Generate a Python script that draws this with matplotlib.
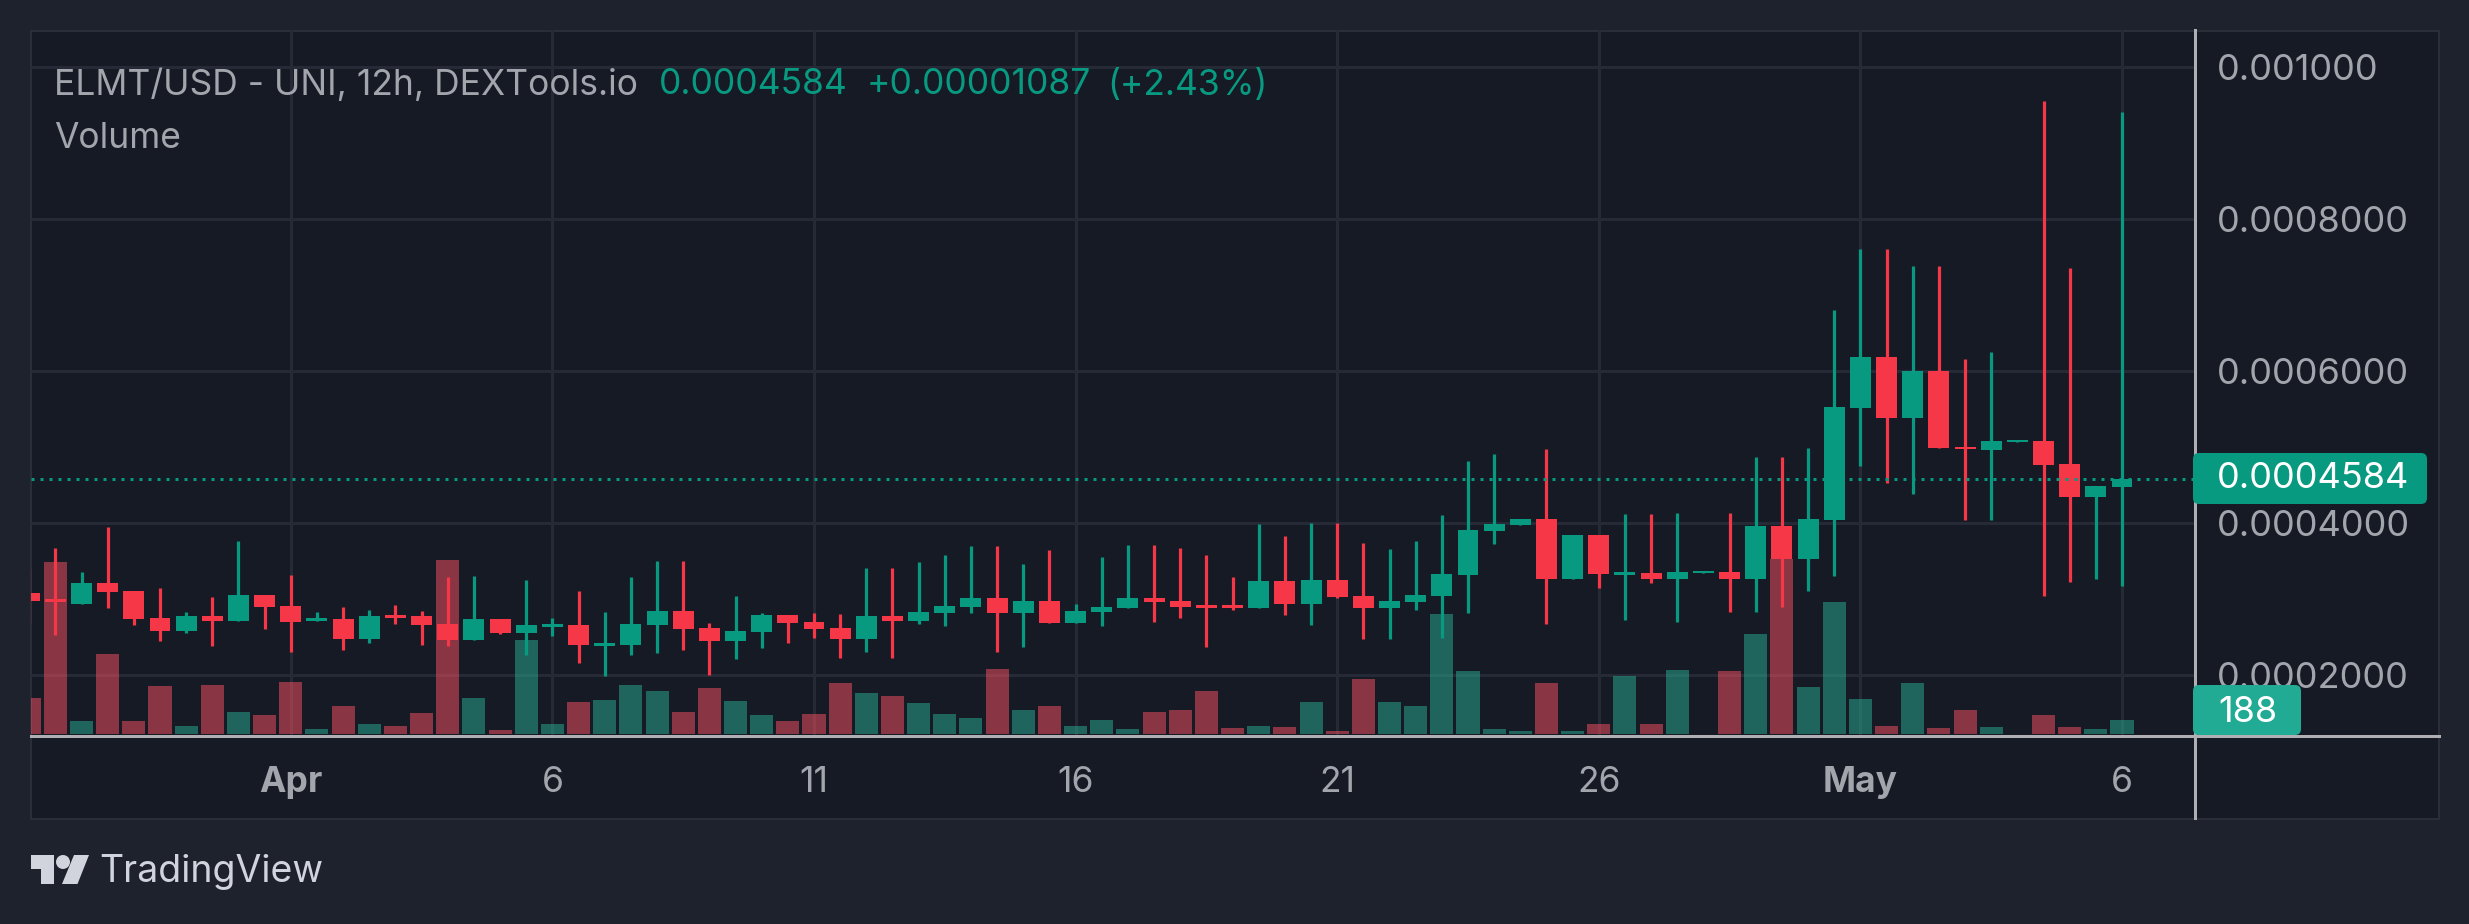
import matplotlib
matplotlib.use("Agg")
import matplotlib.pyplot as plt
import numpy as np
from matplotlib.patches import Rectangle, FancyBboxPatch, Polygon, Circle
from matplotlib.transforms import IdentityTransform

plt.rcParams['font.family'] = ['Inter', 'DejaVu Sans']

# 12h bars, index 0 = 1 April; prices in units of 0.0001
bar_index = list(range(-10, 71))
opens = [3.083,3.004,2.939,3.215,3.110,2.754,2.583,2.781,2.715,3.057,
         2.912,2.715,2.741,2.478,2.794,2.781,2.675,2.465,2.741,2.557,
         2.636,2.662,2.386,2.399,2.662,2.846,2.623,2.452,2.570,2.794,
         2.702,2.623,2.478,2.781,2.715,2.820,2.899,3.018,2.820,2.978,
         2.689,2.833,2.886,3.018,2.978,2.925,2.925,2.886,3.241,2.939,
         3.254,3.044,2.886,2.965,3.044,3.320,3.899,3.978,4.057,3.268,
         3.846,3.319,3.349,3.271,3.349,3.361,3.259,3.964,3.530,4.042,
         5.512,6.181,5.380,6.000,5.006,4.964,5.060,5.078,4.777,4.343,4.476]
highs = [3.399,3.671,3.360,3.952,3.110,3.149,2.833,3.031,3.768,3.057,
         3.320,2.833,2.899,2.860,2.925,2.846,3.294,3.307,2.741,3.254,
         2.754,3.110,2.833,3.294,3.504,3.504,2.689,3.044,2.820,2.794,
         2.820,2.807,3.412,3.412,3.491,3.583,3.702,3.702,3.465,3.649,
         2.939,3.557,3.715,3.715,3.675,3.583,3.294,3.991,3.833,4.004,
         4.004,3.741,3.662,3.768,4.110,4.819,4.911,4.057,4.977,3.846,
         3.846,4.120,4.120,4.133,3.373,4.133,4.867,4.867,4.988,6.801,
         7.596,7.596,7.373,7.373,6.157,6.247,5.090,9.542,7.349,4.488,9.398]
lows = [2.684,2.531,2.939,2.886,2.662,2.452,2.557,2.386,2.715,2.610,
        2.307,2.715,2.333,2.425,2.675,2.399,2.386,2.465,2.544,2.268,
        2.518,2.162,1.991,2.268,2.294,2.333,2.004,2.215,2.360,2.425,
        2.491,2.228,2.307,2.228,2.675,2.649,2.820,2.307,2.373,2.689,
        2.689,2.649,2.886,2.702,2.754,2.373,2.860,2.886,2.794,2.662,
        3.018,2.478,2.478,2.860,2.491,2.820,3.728,3.978,2.677,3.268,
        3.150,2.729,3.211,2.705,3.349,2.825,2.825,2.892,3.114,3.307,
        4.753,4.530,4.386,4.988,4.042,4.042,5.060,3.042,3.229,3.259,3.175]
closes = [2.978,2.965,3.215,3.096,2.741,2.583,2.781,2.715,3.057,2.899,
          2.702,2.754,2.478,2.781,2.754,2.662,2.465,2.741,2.557,2.662,
          2.675,2.399,2.425,2.675,2.846,2.610,2.452,2.583,2.794,2.689,
          2.610,2.478,2.781,2.715,2.833,2.912,3.018,2.820,2.978,2.689,
          2.846,2.899,3.018,2.965,2.899,2.886,2.886,3.241,2.939,3.254,
          3.031,2.886,2.978,3.057,3.333,3.912,3.991,4.057,3.268,3.846,
          3.333,3.361,3.271,3.361,3.373,3.259,3.964,3.530,4.054,5.524,
          6.181,5.380,6.000,4.988,4.976,5.078,5.090,4.765,4.343,4.488,4.584]
volumes = [475,2270,172,1056,172,634,106,647,290,251,
           686,66,370,132,106,277,2297,475,53,1241,
           132,422,449,647,568,290,607,436,251,172,
           264,673,541,502,409,264,211,858,317,370,
           106,185,66,290,317,568,79,106,92,422,
           40,726,422,370,1584,832,66,40,673,40,
           132,766,132,849,0,832,1320,2310,625,1747,
           462,110,673,79,317,92,0,255,92,66,188]

x_ticks = [0, 10, 20, 30, 40, 50, 60, 70]
x_labels = ['Apr', '6', '11', '16', '21', '26', 'May', '6']
y_ticks = [0.0002, 0.0004, 0.0006, 0.0008, 0.0010]
y_labels = ['0.0002000', '0.0004000', '0.0006000', '0.0008000', '0.001000']
last_price = 0.0004584
last_volume = 188
UNIT = 1e-4

W, H = 2469, 924
OUTER = '#1E222D'; PANEL = '#161A25'; GRID = '#262A36'; BORDER = '#2A2E39'
UP = '#089981'; DOWN = '#F53748'
VOL_UP = '#28B097'; VOL_DOWN = '#FE5063'
AXIS = '#B0B0B4'; TXT = '#A3A5AC'; LOGO = '#D1D4DC'
PX = 0.72  # points per pixel at dpi 100

fig = plt.figure(figsize=(W / 100, H / 100), dpi=100, facecolor=OUTER)

def py(y):
    return H - y

# panel background
fig.add_artist(Rectangle((30.5, py(818.5)), 2438.5 - 30.5, 818.5 - 30.5, transform=IdentityTransform(),
                         facecolor=PANEL, edgecolor=BORDER, linewidth=2 * PX, zorder=-1))

L, R, T, B = 30.6, 2195.0, 30.0, 736.0
rect = [L / W, 1 - B / H, (R - L) / W, (B - T) / H]
xlim = ((L - 290.8) / 26.16, (R - 290.8) / 26.16)
ylim = (1.202e-4, 10.48e-4)
vol_lim = (-26.4, 9293)

ax = fig.add_axes(rect, zorder=1, facecolor='none')
ax_vol = fig.add_axes(rect, zorder=2, facecolor='none')
ax_c = fig.add_axes(rect, zorder=3, facecolor='none')
for a in (ax, ax_vol, ax_c):
    a.set_xlim(xlim)
    for s in a.spines.values():
        s.set_visible(False)
ax.set_ylim(ylim); ax_c.set_ylim(ylim); ax_vol.set_ylim(vol_lim)
ax_vol.axis('off'); ax_c.axis('off')

# grid + scales
ax.set_xticks(x_ticks); ax.set_xticklabels(x_labels)
ax.yaxis.tick_right()
ax.set_yticks(y_ticks); ax.set_yticklabels(y_labels)
ax.tick_params(axis='x', length=0, pad=21.5, labelsize=25.5, labelcolor=TXT)
ax.tick_params(axis='y', length=0, pad=16, labelsize=26, labelcolor=TXT)
ax.grid(True, color=GRID, linewidth=3 * PX)
ax.set_axisbelow(True)
for lab in ax.get_xticklabels():
    if lab.get_text() in ('Apr', 'May'):
        lab.set_fontweight('bold')

xs = np.array(bar_index, dtype=float)
o = np.array(opens) * UNIT; h = np.array(highs) * UNIT
l = np.array(lows) * UNIT; c = np.array(closes) * UNIT
up = c >= o

ax_vol.bar(xs, volumes, width=0.88, color=[VOL_UP if u else VOL_DOWN for u in up], alpha=0.5, linewidth=0)
ax_c.vlines(xs, l, h, colors=[UP if u else DOWN for u in up], linewidth=3.2 * PX, capstyle='butt')
ax_c.bar(xs, np.abs(c - o), bottom=np.minimum(o, c), width=0.80,
         color=[UP if u else DOWN for u in up], linewidth=0)
ax_c.axhline(last_price, color=UP, linewidth=3 * PX, linestyle=(0, (1, 2)))

# axis lines
fig.add_artist(plt.Line2D([2194.5, 2194.5], [py(30), py(818)], transform=IdentityTransform(),
                          color=AXIS, linewidth=3 * PX, zorder=4))
fig.add_artist(plt.Line2D([30.5, 2438.5], [py(736), py(736)], transform=IdentityTransform(),
                          color=AXIS, linewidth=3 * PX, zorder=4))

# price tags
def tag(x0, x1, y0, y1, color):
    fig.add_artist(FancyBboxPatch((x0, py(y1)), x1 - x0, y1 - y0, transform=IdentityTransform(),
                                  boxstyle='round,pad=0,rounding_size=6', facecolor=color,
                                  edgecolor='none', zorder=5))
tag(2193, 2427, 453, 504, UP)
tag(2193, 2301, 685, 735, '#22AB94')

def t(x, y, s, color, size, **kw):
    fig.text(x / W, 1 - y / H, s, color=color, fontsize=size, va='center', ha='left', zorder=6, **kw)

t(2217, 479, f'{last_price:.7f}', 'white', 26)
t(2218, 713, str(last_volume), 'white', 26)

# legend
t(54, 85, 'ELMT/USD - UNI, 12h, DEXTools.io', TXT, 25.5)
t(659, 85, '0.0004584', UP, 25.5)
t(867, 85, '+0.00001087', UP, 25.5)
t(1107, 85, '(+2.43%)', UP, 25.5)
t(54, 138, 'Volume', TXT, 25.5)

# TradingView mark
tv = IdentityTransform()
def P(points):
    fig.add_artist(Polygon([(x, py(y)) for x, y in points], closed=True, transform=tv,
                           facecolor=LOGO, edgecolor='none', zorder=6))
P([(30.6, 855), (53.5, 855), (53.5, 884), (41, 884), (41, 869), (30.6, 869)])
P([(74, 855), (89, 855), (77.5, 884), (62, 884)])
fig.add_artist(Circle((63, py(862)), 7, transform=tv, facecolor=LOGO, edgecolor='none', zorder=6))
t(99, 872, 'TradingView', LOGO, 27)

fig.savefig('out.png', dpi=100, facecolor=OUTER)
